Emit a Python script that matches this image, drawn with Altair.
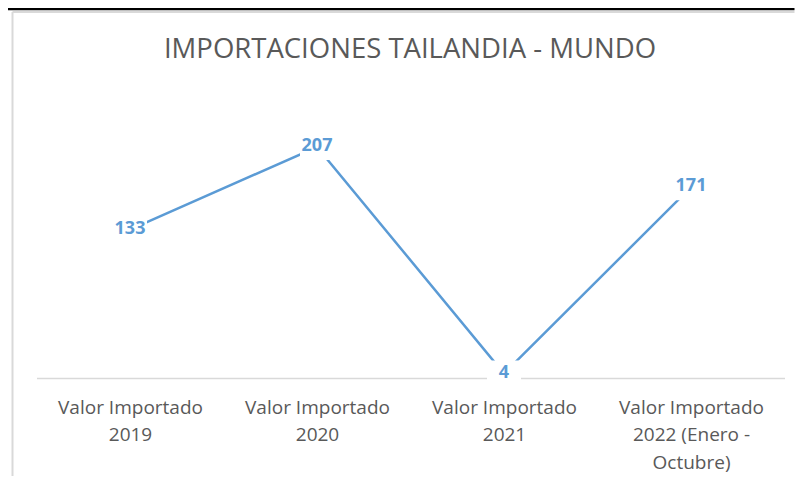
import altair as alt
import pandas as pd

# ---- data ----
categories = [
    "Valor Importado\n2019",
    "Valor Importado\n2020",
    "Valor Importado\n2021",
    "Valor Importado\n2022 (Enero -\nOctubre)",
]
values = [133, 207, 4, 171]
chart_title = ["IMPORTACIONES TAILANDIA - MUNDO"]

df = pd.DataFrame({"categoria": categories, "valor": values})
frame_df = pd.DataFrame({"k": [0]})
title_df = pd.DataFrame({"titulo": chart_title})

BLUE = "#5B9BD5"
GRAY_TXT = "#595959"
GRAY_LINE = "#D9D9D9"

x = alt.X(
    "categoria:N",
    sort=categories,
    title=None,
    scale=alt.Scale(type="point", padding=0.5),
    axis=alt.Axis(
        labelAngle=0,
        labelExpr="split(datum.label, '\\n')",
        ticks=False,
        domainColor=GRAY_LINE,
        domainWidth=1.5,
        labelFont="Open Sans",
        labelFontSize=19,
        labelColor=GRAY_TXT,
        labelPadding=20,
        labelLineHeight=27.5,
        labelOverlap=False,
        labelLimit=300,
    ),
)
y = alt.Y("valor:Q", scale=alt.Scale(domain=[0, 250]), axis=None)

base = alt.Chart(df)

line = base.mark_line(color=BLUE, strokeWidth=2.5).encode(x=x, y=y)

boxes = base.mark_point(
    shape="M-17,-13L17,-13L17,13L-17,13Z",
    size=4,
    filled=True,
    fill="white",
    opacity=1,
    strokeWidth=0,
).encode(x=x, y=y)

labels = base.mark_text(
    font="Open Sans",
    fontSize=18,
    fontWeight="bold",
    color=BLUE,
    align="center",
    baseline="middle",
    dy=-1,
).encode(x=x, y=y, text=alt.Text("valor:Q"))

title_mark = alt.Chart(title_df).mark_text(
    font="Open Sans",
    fontSize=27.5,
    color=GRAY_TXT,
    align="center",
    baseline="alphabetic",
).encode(x=alt.value(373.5), y=alt.value(-41), text="titulo:N")

frame = alt.Chart(frame_df)
black_top = frame.mark_rule(color="black", strokeWidth=2.5).encode(
    x=alt.value(-28.5), x2=alt.value(758), y=alt.value(-90)
)
gray_top = frame.mark_rule(color=GRAY_LINE, strokeWidth=2).encode(
    x=alt.value(-24), x2=alt.value(758), y=alt.value(-87)
)
gray_left = frame.mark_rule(color=GRAY_LINE, strokeWidth=2).encode(
    x=alt.value(-24), y=alt.value(-87), y2=alt.value(377)
)

chart = (
    alt.layer(black_top, gray_top, gray_left, title_mark, line, boxes, labels)
    .properties(
        width=748,
        height=279,
        autosize=alt.AutoSizeParams(type="none"),
        padding={"left": 28.5, "top": 91, "right": 10, "bottom": 98},
    )
    .configure_view(stroke=None)
)

chart.save("out.html", embed_options={"renderer": "svg", "actions": False})
